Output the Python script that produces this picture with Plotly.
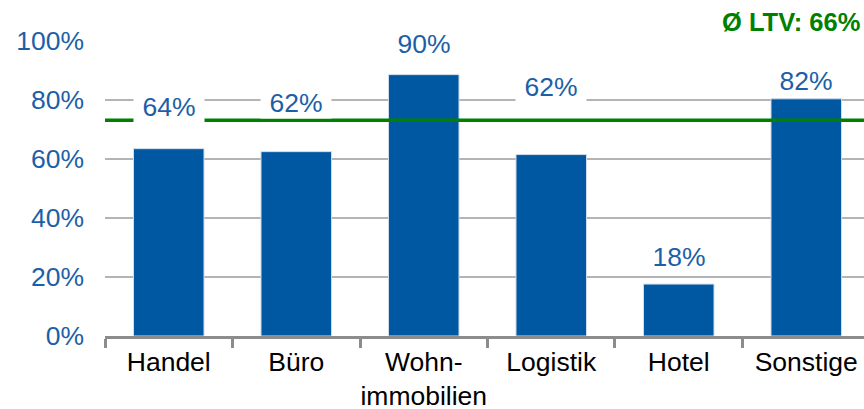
import plotly.graph_objects as go

# LTV nach Nutzungsart
categories = ["Handel", "Büro", "Wohn-<br>immobilien", "Logistik", "Hotel", "Sonstige"]
ltv_bars = [63.5, 62.5, 88.6, 61.5, 17.6, 80.4]
ltv_labels = ["64%", "62%", "90%", "62%", "18%", "82%"]
avg_line = 73.1
avg_text = "Ø LTV: 66%"

BLUE = "#0058a3"
TXT_BLUE = "#1c5fa8"
GREEN = "#008000"
FONT = "Liberation Sans, Arial, sans-serif"
FS = 26.5

# pixel offsets of the value labels above each bar
label_shift = [42, 49, 31, 68, 27, 18]

fig = go.Figure()
fig.add_trace(go.Bar(
    x=categories, y=ltv_bars,
    marker=dict(color=BLUE, line=dict(color="#d0dcea", width=1)),
    width=0.553, hoverinfo="skip"))

for cat, val, lab, sh in zip(categories, ltv_bars, ltv_labels, label_shift):
    fig.add_annotation(x=cat, y=val, text=lab, showarrow=False,
                       xref="x", yref="y", yanchor="middle", yshift=sh,
                       bgcolor="white", width=70, borderpad=0,
                       font=dict(size=FS, color=TXT_BLUE, family=FONT))

fig.add_shape(type="line", xref="paper", yref="y", x0=0, x1=1,
              y0=avg_line, y1=avg_line, line=dict(color=GREEN, width=3.5))

fig.add_annotation(xref="paper", yref="paper", x=1, y=1, xanchor="right",
                   yanchor="middle", yshift=19, xshift=-2, showarrow=False,
                   text="<b>" + avg_text + "</b>",
                   font=dict(size=25.5, color=GREEN, family=FONT))

fig.update_layout(
    width=864, height=409,
    margin=dict(l=105, r=0, t=41, b=73),
    plot_bgcolor="white", paper_bgcolor="white",
    showlegend=False, bargap=0.447,
    font=dict(family=FONT),
)
fig.update_xaxes(
    range=[-0.5, 5.453], automargin=False, tickangle=0,
    showline=True, linecolor="#8c8c8c", linewidth=3,
    ticks="outside", tickson="boundaries", ticklen=9, tickwidth=3,
    tickcolor="#8c8c8c", showgrid=False,
    tickfont=dict(size=FS, color="black", family=FONT),
)
fig.update_yaxes(
    range=[0, 100], dtick=20, ticksuffix="%", automargin=False,
    showgrid=True, gridcolor="#b4b4b4", gridwidth=2,
    zeroline=False, showline=False, ticks="",
    ticklabelstandoff=20,
    tickfont=dict(size=FS, color=TXT_BLUE, family=FONT),
)

# body margin would shift the figure out of the window
fig.write_html("out.html", config={"displayModeBar": False},
               post_script="document.body.style.margin='0';document.body.style.overflow='hidden';")
